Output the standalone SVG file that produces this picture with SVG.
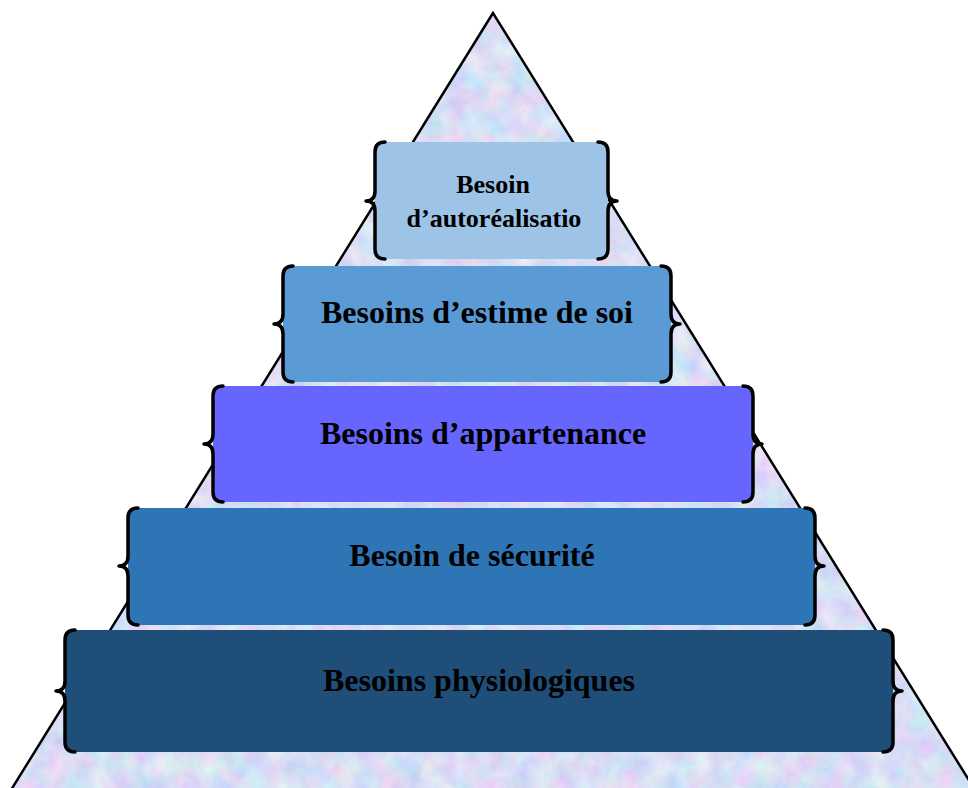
<svg xmlns="http://www.w3.org/2000/svg" width="968" height="788" viewBox="0 0 968 788">
  <defs>
    <filter id="tex" x="0" y="0" width="1" height="1" color-interpolation-filters="sRGB">
      <feTurbulence type="fractalNoise" baseFrequency="0.045" numOctaves="4" seed="7" result="n"/>
      <feColorMatrix in="n" type="matrix" values="0.28 0 0 0 0.71  0 0.22 0 0 0.76  0 0 0.08 0 0.92  0 0 0 0 1" result="c"/>
      <feComposite in="c" in2="SourceGraphic" operator="in"/>
    </filter>
  </defs>
  <style>
    .brace { fill: none; stroke: #000; stroke-width: 3.5; stroke-linecap: round; stroke-linejoin: round; }
    .lbl { font-family: "Liberation Serif", "Times New Roman", serif; font-weight: bold; fill: #000; text-anchor: middle; }
    .big { font-size: 32px; }
    .small { font-size: 26px; }
  </style>
  <rect width="968" height="788" fill="#ffffff"/>
  <g id="pyramid">
    <polygon points="493,13 11,790 975,790" fill="#dbe2f6"/>
    <polygon points="493,13 11,790 975,790" fill="#dbe2f6" filter="url(#tex)"/>
    <polygon points="493,13 11,790 975,790" fill="none" stroke="#000" stroke-width="2.5" stroke-linejoin="miter"/>
  </g>
  <g id="level5">
    <rect x="65" y="630" width="828" height="122" rx="9" fill="#1f4e79"/>
    <path class="brace" d="M75,630 Q65,630 65,640 V681 Q65,691 56,691 Q65,691 65,701 V742 Q65,752 75,752"/>
    <path class="brace" d="M883,630 Q893,630 893,640 V681 Q893,691 902,691 Q893,691 893,701 V742 Q893,752 883,752"/>
    <text class="lbl big" x="479" y="691">Besoins physiologiques</text>
  </g>
  <g id="level4">
    <rect x="128" y="508" width="687" height="117" rx="9" fill="#2e75b6"/>
    <path class="brace" d="M138,508 Q128,508 128,518 V556 Q128,566 119,566 Q128,566 128,576 V615 Q128,625 138,625"/>
    <path class="brace" d="M805,508 Q815,508 815,518 V556 Q815,566 824,566 Q815,566 815,576 V615 Q815,625 805,625"/>
    <text class="lbl big" x="472" y="566">Besoin de sécurité</text>
  </g>
  <g id="level3">
    <rect x="213" y="386" width="540" height="116" rx="9" fill="#6666ff"/>
    <path class="brace" d="M223,386 Q213,386 213,396 V434 Q213,444 204,444 Q213,444 213,454 V492 Q213,502 223,502"/>
    <path class="brace" d="M743,386 Q753,386 753,396 V434 Q753,444 762,444 Q753,444 753,454 V492 Q753,502 743,502"/>
    <text class="lbl big" x="483" y="444">Besoins d’appartenance</text>
  </g>
  <g id="level2">
    <rect x="283" y="266" width="388" height="116" rx="9" fill="#5b9bd5"/>
    <path class="brace" d="M293,266 Q283,266 283,276 V314 Q283,324 274,324 Q283,324 283,334 V372 Q283,382 293,382"/>
    <path class="brace" d="M661,266 Q671,266 671,276 V314 Q671,324 680,324 Q671,324 671,334 V372 Q671,382 661,382"/>
    <text class="lbl big" x="477" y="323">Besoins d’estime de soi</text>
  </g>
  <g id="level1">
    <rect x="375" y="142" width="233" height="117" rx="9" fill="#9dc3e6"/>
    <path class="brace" d="M385,142 Q375,142 375,152 V191 Q375,201 366,201 Q375,201 375,211 V249 Q375,259 385,259"/>
    <path class="brace" d="M598,142 Q608,142 608,152 V191 Q608,201 617,201 Q608,201 608,211 V249 Q608,259 598,259"/>
    <text class="lbl small" x="493" y="193">Besoin</text>
    <text class="lbl small" x="494" y="227">d’autoréalisatio</text>
  </g>
  <g id="connectors"/>
</svg>
